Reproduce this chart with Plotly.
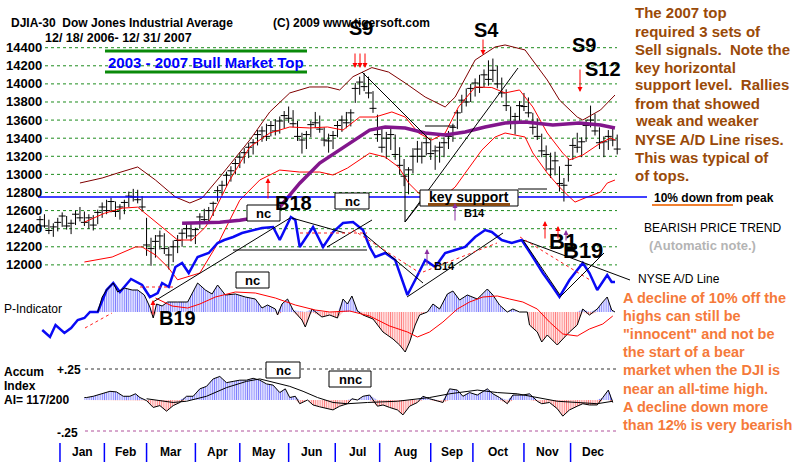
import plotly.graph_objects as go

W, H = 800, 462

# ---------------- data (trading-day index 0 = 12/18/2006) ----------------
bar_day = list(range(0, 261, 2))
bar_high = [12540, 12560, 12500, 12460, 12520, 12580, 12540, 12500, 12600, 12640,
            12590, 12560, 12550, 12610, 12690, 12720, 12740, 12700, 12670, 12720,
            12810, 12840, 12830, 12760, 12520, 12300, 12330, 12380, 12350, 12200,
            12270, 12330, 12400, 12470, 12450, 12410, 12570, 12620, 12640, 12700,
            12870, 12930, 13030, 13090, 13170, 13240, 13290, 13350, 13390, 13490,
            13530, 13560, 13590, 13610, 13640, 13700, 13750, 13710, 13590, 13460,
            13480, 13590, 13690, 13650, 13520, 13450, 13480, 13590, 13650, 13690,
            13720, 14010, 14080, 14120, 14080, 13920, 13660, 13520, 13470, 13530,
            13440, 13300, 13170, 13080, 13290, 13370, 13360, 13430, 13390, 13320,
            13360, 13410, 13480, 13560, 13710, 13880, 13950, 14000, 14060, 14100,
            14160, 14260, 14280, 14200, 14070, 13940, 13750, 13680, 13810, 13900,
            13850, 13680, 13620, 13450, 13320, 13240, 13250, 13090, 12960, 13180,
            13400, 13460, 13410, 13600, 13760, 13670, 13520, 13420, 13490, 13530,
            13440]
bar_low = [12380, 12410, 12340, 12310, 12370, 12420, 12390, 12340, 12440, 12480,
           12430, 12400, 12380, 12450, 12520, 12560, 12580, 12530, 12500, 12560,
           12640, 12700, 12680, 12590, 12100, 11990, 12080, 12170, 12120, 11950,
           12030, 12130, 12200, 12290, 12260, 12230, 12400, 12460, 12480, 12540,
           12700, 12770, 12870, 12920, 13000, 13070, 13120, 13180, 13220, 13320,
           13360, 13370, 13420, 13430, 13450, 13510, 13570, 13520, 13370, 13230,
           13280, 13410, 13510, 13460, 13310, 13240, 13280, 13410, 13470, 13510,
           13530, 13790, 13880, 13920, 13840, 13680, 13360, 13240, 13170, 13270,
           13160, 13000, 12870, 12780, 13010, 13130, 13120, 13210, 13160, 13050,
           13130, 13190, 13280, 13360, 13500, 13680, 13750, 13800, 13860, 13900,
           13960, 13980, 14020, 13950, 13850, 13700, 13500, 13440, 13590, 13700,
           13630, 13440, 13380, 13190, 13040, 12960, 12990, 12810, 12700, 12920,
           13160, 13240, 13190, 13360, 13520, 13430, 13280, 13190, 13270, 13310,
           13220]
bar_close = [12500, 12430, 12380, 12420, 12470, 12540, 12430, 12460, 12560, 12520,
             12470, 12520, 12440, 12580, 12640, 12600, 12700, 12590, 12640, 12690,
             12760, 12750, 12720, 12640, 12220, 12180, 12260, 12320, 12180, 12110,
             12200, 12270, 12350, 12400, 12320, 12390, 12530, 12500, 12600, 12680,
             12820, 12880, 12990, 13040, 13120, 13190, 13240, 13300, 13350, 13440,
             13480, 13420, 13540, 13480, 13590, 13650, 13620, 13560, 13420, 13380,
             13440, 13550, 13570, 13500, 13380, 13370, 13430, 13540, 13600, 13570,
             13680, 13950, 14020, 13970, 13900, 13730, 13440, 13300, 13400, 13440,
             13220, 13100, 12980, 13050, 13200, 13280, 13200, 13350, 13230, 13260,
             13300, 13350, 13420, 13520, 13680, 13820, 13800, 13950, 14010, 13960,
             14100, 14050, 14150, 14000, 13900, 13760, 13580, 13640, 13760, 13750,
             13680, 13520, 13420, 13260, 13220, 13060, 13150, 12900, 12880, 13100,
             13320, 13300, 13360, 13540, 13600, 13480, 13350, 13360, 13420, 13380,
             13280]

band_out_day = [18, 28, 35, 44, 52, 61, 67.5, 73, 81, 94.5, 103.5, 112.5, 121.5, 129.5, 135, 141,
                149.5, 157, 164.5, 173.5, 182.5, 187, 196, 205, 209.5, 218.5, 228.5, 234, 242,
                244.5, 252.5, 259]
band_out_val = [12905, 12960, 13015, 13082, 12938, 12750, 12684, 12739, 12971, 13380, 13690, 13900,
                13966, 13966, 13933, 14080, 14180, 14131, 14010, 13855, 13745, 13855, 14264, 14408,
                14430, 14375, 14043, 13822, 13634, 13601, 13712, 13877]
band_in_day = [20, 29, 37, 44, 55, 62, 68.5, 74.5, 76.5, 85.5, 94.5, 103.5, 112.5, 121.5, 129.5,
               136.5, 144, 151, 158.5, 164.5, 170.5, 176.5, 182.5, 188.5, 196, 203.5, 209.5, 216,
               222, 228.5, 235.5, 238.5, 244.5, 252.5, 257, 259]
band_in_val = [12472, 12570, 12627, 12638, 12417, 12275, 12275, 12417, 12496, 12938, 13303, 13457,
               13524, 13513, 13524, 13490, 13634, 13634, 13690, 13634, 13457, 13380, 13457, 13745,
               13966, 13960, 13900, 13933, 13745, 13457, 13235, 13160, 13214, 13347, 13402, 13380]
band_low_day = [20, 32.5, 43, 46, 52, 57.5, 62, 72, 81, 90, 99, 108, 117, 126, 132, 138.5, 148.5,
                155.5, 161.5, 166, 170.5, 175, 180, 187, 191.5, 199, 205, 209.5, 218.5, 222, 228.5,
                234, 238.5, 241, 246.5, 252.5, 255.5, 259]
band_low_val = [12032, 12087, 12198, 12198, 12110, 11978, 11835, 11910, 12275, 12715, 12938, 13048,
                13026, 13026, 12993, 13070, 13235, 13192, 13082, 12905, 12795, 12750, 12720, 12860,
                13014, 13268, 13413, 13457, 13413, 13237, 13015, 12860, 12750, 12694, 12750, 12805,
                12904, 12938]
ma_day = [64, 72, 81, 90, 99, 108, 117, 126, 135, 144, 148.5, 155.5, 164.5, 173.5, 182.5, 191.5,
          200.5, 209.5, 218.5, 231, 243, 252.5, 259]
ma_val = [12461, 12465, 12472, 12494, 12527, 12638, 12903, 13125, 13270, 13413, 13490, 13524, 13513,
          13457, 13435, 13468, 13524, 13568, 13579, 13546, 13568, 13546, 13513]

ad_day = [1, 4.5, 7, 11, 14, 17, 20, 22.5, 26, 30, 33, 36, 41, 46, 49.5, 53, 55, 58, 61, 64,
          67, 71, 76, 80, 83, 87, 91, 96, 100, 105, 108, 113, 115, 117, 120, 123, 127.5, 132, 136.5, 141,
          145.5, 148.5, 151, 155.5, 160, 163, 165.5, 169, 173.5, 178, 182.5, 187, 191.5, 196, 200.5,
          203.5, 208, 212.5, 217, 222, 226.5, 231, 234, 238.5, 244.5, 247.5, 251, 255.5, 257.5, 259]
ad_val = [-30, -37, -25, -33, -28, -20, -18, -12, -12, 10, 17, 8, 21, 15, 3, 7, 17, 13, 33, 37,
          27, 43, 47, 57, 60, 63, 67, 70, 72, 73, 60, 83, 80, 53, 63, 73, 53, 68, 77, 78,
          70, 53, 43, 47, 40, 20, 5, 20, 40, 33, 47, 50, 53, 63, 70, 68, 60, 57, 60, 43,
          27, 13, 3, 20, 37, 27, 10, 25, 18, 18]

pind_day = [26, 28, 30, 33, 35, 38, 41.5, 44, 47, 49.5, 51, 52.5, 55, 57.5, 62, 66.5, 71, 74.5, 77.5, 80,
            83.5, 88, 92.5, 97, 100, 102.5, 106, 107, 109, 111.5, 114, 118, 119.5, 122.5, 127, 130.5, 134,
            136.5, 138.5, 140.5, 143, 145.5, 150, 154.5, 159, 162, 164.5, 166.5, 169, 171, 174.5, 177,
            180, 183.5, 186, 189, 192.5, 197, 201.5, 204, 207, 210.5, 213, 216, 219.5, 220.5, 224, 226,
            228.5, 233, 235.5, 238.5, 242, 244.5, 247.5, 251, 253.5, 255.5, 257.5, 259]
pind_val = [0, 15, 22, 29, 20, 24, 22, 22, 17, 5, -6, 8, 6, 10, 10, 10, 29, 22, 18, 27,
            17, 18, 15, 13, 4, 7, 3, -3, 8, 13, 2, -8, -15, 3, -5, -3, -6, 13, 8, 16,
            1, -3, -7, -20, -27, -33, -40, -30, -13, -3, 0, 8, 3, 18, 21, 12, 17, 13, 23, 17,
            7, 0, 3, 0, 0, -13, -20, -30, -23, -33, -27, -20, -13, 3, -3, 3, 10, 15, 2, 0]
pma_day = [52, 59.5, 66.5, 72, 79, 88, 97, 106, 115, 124, 130.5, 139.5, 148.5, 157.5, 165.5, 170,
           175.5, 181.5, 188, 193.5, 199.5, 206, 211.5, 217.5, 224, 229.5, 235.5, 242, 247.5, 253.5, 258]
pma_val = [14, 6, 4, 8, 15, 20, 19, 14, 7, 2, 0, 1, -4, -14, -20, -25, -20, -10, 3, 10, 15, 16, 13,
           10, 3, -10, -22, -24, -17, -12, -4]

ai_day = [20, 21, 24, 28.5, 31.5, 34.5, 37.5, 40.5, 43, 45, 48, 51, 54, 57, 60, 63, 66, 69, 72, 75,
          78, 81, 84, 87, 90, 93, 96, 99, 102, 105, 108, 110.5, 112.5, 115, 117, 120.5, 123, 126, 129.5,
          132, 135, 138.5, 140.5, 143, 145.5, 148.5, 152, 154.5, 157.5, 161, 163.5, 166.5, 170, 172.5,
          175.5, 179, 181.5, 184.5, 188, 190.5, 193.5, 197, 201.5, 204, 207, 210.5, 213, 217.5, 220.5,
          224, 226, 229.5, 233, 235.5, 238.5, 242, 244.5, 247.5, 251, 253.5, 256, 258]
ai_val = [0.02, 0.02, 0.03, 0.055, 0.07, 0.065, 0.03, 0.03, 0.05, 0.02,
          -0.005, -0.06, -0.045, -0.09, -0.045, -0.02, 0.03, 0.03, 0.09, 0.11,
          0.17, 0.19, 0.14, 0.15, 0.16, 0.16, 0.175, 0.16, 0.13, 0.12,
          0.06, 0.09, 0.02, 0.03, -0.03, 0, -0.04, -0.055, -0.07, -0.08,
          -0.05, -0.03, 0.01, 0, 0.03, 0.04, -0.05, -0.04, -0.06, -0.08,
          -0.12, -0.05, -0.02, 0.03, 0.01, -0.01, -0.02, 0.09, 0.08, 0.03,
          0.06, 0.04, 0.09, 0.05, 0.02, -0.03, 0.04, 0.04, 0.05, -0.01,
          -0.03, -0.02, -0.07, -0.13, -0.08, -0.05, -0.03, -0.04, -0.04, 0.02,
          0.08, -0.02]
aima_day = [48, 60, 66, 75, 84, 93, 99, 107, 112.5, 118.5, 125, 132, 138.5, 147.5, 161, 175.5, 184.5,
            197, 206, 215, 224, 233, 242, 251, 258]
aima_val = [0.01, -0.02, -0.01, 0.03, 0.1, 0.15, 0.17, 0.135, 0.11, 0.07, 0.02, -0.02, -0.03, -0.02,
            -0.01, 0.02, 0.05, 0.08, 0.06, 0.05, 0.02, -0.01, -0.02, -0.03, -0.01]

price_ticks = [12000, 12200, 12400, 12600, 12800, 13000, 13200, 13400, 13600, 13800, 14000, 14200, 14400]
month_names = ["Jan", "Feb", "Mar", "Apr", "May", "Jun", "Jul", "Aug", "Sep", "Oct", "Nov", "Dec"]
month_start = [9, 29, 48, 70, 90, 112, 133, 153, 176, 195, 218, 239]
last_day = 259
support_level = 12750
ai_levels = [0.25, -0.25]

# ---------------- figure ----------------
FONT = "Liberation Sans, Arial, sans-serif"
fig = go.Figure()


def PX(x):
    return x / W


def PY(y):
    return 1 - y / H


# price bars
bx, by = [], []
for d, hi, lo in zip(bar_day, bar_high, bar_low):
    bx += [d, d, None]
    by += [lo, hi, None]
fig.add_trace(go.Scatter(x=bx, y=by, mode="lines", line=dict(color="black", width=1), yaxis="y"))
fig.add_trace(go.Scatter(x=bar_day, y=bar_close, mode="markers", yaxis="y",
                         marker=dict(symbol="line-ew", size=5, line=dict(color="black", width=1))))
fig.add_trace(go.Scatter(x=band_out_day, y=band_out_val, mode="lines", line=dict(color="#800000", width=1), yaxis="y"))
fig.add_trace(go.Scatter(x=band_in_day, y=band_in_val, mode="lines", line=dict(color="#FF0000", width=1), yaxis="y"))
fig.add_trace(go.Scatter(x=band_low_day, y=band_low_val, mode="lines", line=dict(color="#FF0000", width=1), yaxis="y"))
fig.add_trace(go.Scatter(x=ma_day, y=ma_val, mode="lines", line=dict(color="#82168C", width=3.5), yaxis="y"))

# A/D line
fig.add_trace(go.Scatter(x=ad_day, y=ad_val, mode="lines", line=dict(color="#0A0AF5", width=2.5), yaxis="y2"))

PAT = dict(shape="|", size=2.2, solidity=0.5)

# P-Indicator
fig.add_trace(go.Scatter(x=pind_day, y=[max(v, 0) for v in pind_val], mode="lines", yaxis="y3",
                         line=dict(width=0, color="blue"), fill="tozeroy", fillcolor="rgba(0,0,0,0)",
                         fillpattern=dict(fgcolor="#0000FF", **PAT)))
fig.add_trace(go.Scatter(x=pind_day, y=[min(v, 0) for v in pind_val], mode="lines", yaxis="y3",
                         line=dict(width=0, color="red"), fill="tozeroy", fillcolor="rgba(0,0,0,0)",
                         fillpattern=dict(fgcolor="#FF0000", **PAT)))
fig.add_trace(go.Scatter(x=pind_day, y=pind_val, mode="lines", line=dict(color="black", width=1), yaxis="y3"))
fig.add_trace(go.Scatter(x=pma_day, y=pma_val, mode="lines", line=dict(color="#FF0000", width=1), yaxis="y3"))

# Accumulation index
fig.add_trace(go.Scatter(x=ai_day, y=[max(v, 0) for v in ai_val], mode="lines", yaxis="y4",
                         line=dict(width=0, color="blue"), fill="tozeroy", fillcolor="rgba(0,0,0,0)",
                         fillpattern=dict(fgcolor="#0000FF", **PAT)))
fig.add_trace(go.Scatter(x=ai_day, y=[min(v, 0) for v in ai_val], mode="lines", yaxis="y4",
                         line=dict(width=0, color="red"), fill="tozeroy", fillcolor="rgba(0,0,0,0)",
                         fillpattern=dict(fgcolor="#FF0000", **PAT)))
fig.add_trace(go.Scatter(x=ai_day, y=ai_val, mode="lines", line=dict(color="black", width=1), yaxis="y4"))
fig.add_trace(go.Scatter(x=aima_day, y=aima_val, mode="lines", line=dict(color="black", width=1), yaxis="y4"))

shapes = []
# gridlines
for p in price_ticks:
    shapes.append(dict(type="line", xref="paper", yref="y", x0=PX(45), x1=PX(617), y0=p, y1=p,
                       line=dict(color="#1E8C1E", width=1, dash="dot"), layer="below"))
for lvl, col in zip(ai_levels, ["#333333", "#B0509A"]):
    shapes.append(dict(type="line", xref="paper", yref="y4", x0=PX(85), x1=PX(617), y0=lvl, y1=lvl,
                       line=dict(color=col, width=1, dash="dot"), layer="below"))
# 10% down support line
shapes.append(dict(type="line", xref="paper", yref="y", x0=PX(38), x1=PX(647), y0=support_level,
                   y1=support_level, line=dict(color="#0000FF", width=1.5)))
# month separators
for m in month_start:
    shapes.append(dict(type="line", xref="x", yref="paper", x0=m, x1=m, y0=PY(462), y1=PY(443),
                       line=dict(color="#0000FF", width=1.5)))


def seg(x0, y0, x1, y1, color="black", width=1, dash=None):
    ln = dict(color=color, width=width)
    if dash:
        ln["dash"] = dash
    shapes.append(dict(type="line", xref="paper", yref="paper", x0=PX(x0), y0=PY(y0), x1=PX(x1), y1=PY(y1), line=ln))


def box(x0, y0, x1, y1):
    shapes.append(dict(type="rect", xref="paper", yref="paper", x0=PX(x0), y0=PY(y1), x1=PX(x1), y1=PY(y0),
                       line=dict(color="black", width=1), fillcolor="white"))


# green frame around banner
seg(105, 51, 307, 51, "#0A8A0A", 3)
seg(105, 72, 307, 72, "#0A8A0A", 3)
# trendlines (price)
seg(362, 72, 430, 140)
seg(405, 222, 518, 68)
seg(405, 175, 405, 222)
seg(405, 222, 420, 203)
seg(518, 189, 547, 189)
seg(425, 126, 455, 126)
# trendlines (A/D)
seg(153, 302, 290, 218)
seg(233, 250, 367, 250)
seg(292, 218, 345, 233)
seg(327, 247, 372, 220)
seg(363, 233, 423, 283)
seg(407, 297, 503, 233)
seg(523, 240, 630, 280)
seg(523, 240, 560, 295)
seg(560, 297, 604, 253)
seg(300, 233, 367, 233, "#FF2020", 1, "dot")
seg(353, 230, 420, 273, "#FF2020", 1, "dot")
seg(423, 272, 497, 243, "#FF2020", 1, "dot")
seg(520, 237, 590, 280, "#FF2020", 1, "dot")
seg(85, 328, 112, 313, "#FF2020", 1, "dot")
seg(140, 287, 175, 287, "#FF2020", 1, "dot")
# boxes
box(420, 190, 518, 206)
box(247, 205, 280, 221)
box(335, 193, 369, 209)
box(236, 272, 269, 288)
box(266, 362, 300, 378)
box(329, 371, 371, 387)
seg(428, 204.5, 510, 204.5, "#8B4A10", 3)
seg(652, 205, 733, 205, "#F08030", 2)

fig.update_layout(shapes=shapes)

ann = []


def txt(x, y, s, size=12, color="black", bold=True, anchor="left"):
    ann.append(dict(x=PX(x), y=PY(y), xref="paper", yref="paper",
                    text=("<b>%s</b>" % s if bold else s), showarrow=False, xanchor=anchor,
                    yanchor="middle", font=dict(family=FONT, size=size, color=color)))


def arrow(x, y_tail, y_tip, color="#FF0000"):
    ann.append(dict(x=PX(x), y=PY(y_tip), xref="paper", yref="paper",
                    axref="pixel", ayref="pixel", ax=0, ay=(y_tail - y_tip), text="", showarrow=True,
                    arrowhead=2, arrowsize=1, arrowwidth=1, arrowcolor=color))


# price tick labels
for p in price_ticks:
    ann.append(dict(x=PX(4), y=p, xref="paper", yref="y", text="<b>%d</b>" % p, showarrow=False,
                    xanchor="left", yanchor="middle", font=dict(family=FONT, size=13, color="black")))

txt(9, 23, "DJIA-30&nbsp;&nbsp;Dow Jones Industrial Average", 12)
txt(271, 23, "(C) 2009 www.tigersoft.com", 12)
txt(43, 38, "12/ 18/ 2006- 12/ 31/ 2007", 12.5)
txt(206, 62, "2003 - 2007 Bull Market Top", 15, "#0000FF", anchor="center")

txt(361, 28, "S9", 20, anchor="center")
txt(486, 30, "S4", 20, anchor="center")
txt(584, 45, "S9", 20, anchor="center")
txt(603, 69, "S12", 20, anchor="center")
txt(293, 203, "B18", 20, anchor="center")
txt(177, 318, "B19", 20, anchor="center")
txt(563, 241, "B1", 22, anchor="center")
txt(583, 250, "B19", 22, anchor="center")
txt(462, 213, "B14", 11)
txt(432, 266, "B14", 11)

txt(263.5, 213, "nc", 13, anchor="center")
txt(352, 201, "nc", 13, anchor="center")
txt(252.5, 280, "nc", 13, anchor="center")
txt(283, 370, "nc", 13, anchor="center")
txt(350, 379, "nnc", 13, anchor="center")
txt(469, 197, "key support", 14, anchor="center")
txt(652, 198, "10% down from peak", 12)
txt(642, 228, "BEARISH PRICE TREND", 12, bold=False)
txt(647, 246, "(Automatic note.)", 13, "#B4B4B4")
txt(636, 279, "NYSE A/D Line", 12, bold=False)

txt(2, 309, "P-Indicator", 12, bold=False)
txt(2, 372, "Accum", 12)
txt(2, 386, "Index", 12)
txt(2, 400, "AI= 117/200", 12)
txt(55, 370, "+.25", 12)
txt(55, 433, "-.25", 12)

brown = ["The 2007 top", "required 3 sets of", "Sell signals.&nbsp;&nbsp;Note the", "key horizontal",
         "support level.&nbsp;&nbsp;Rallies", "from that showed", "weak and weaker",
         "NYSE A/D Line rises.", "This was typical of", "of tops."]
for k, line in enumerate(brown):
    txt(633, 13 + 18 * k, line, 15, "#9A4A08")
orange = ["A decline of 10% off the", "highs can still be", "\"innocent\" and not be",
          "the start of a bear", "market when the DJI is", "near an all-time high.",
          "A decline down more", "than 12% is very bearish"]
for k, line in enumerate(orange):
    txt(621, 298 + 18.1 * k, line, 14.5, "#F57A3A")

for k, name in enumerate(month_names):
    end = month_start[k + 1] if k + 1 < len(month_start) else last_day
    ann.append(dict(x=(month_start[k] + end) / 2, y=PY(452), xref="x", yref="paper",
                    text="<b>%s</b>" % name, showarrow=False, xanchor="center", yanchor="middle",
                    font=dict(family=FONT, size=12, color="black")))

# signal arrows
for xa in (355, 360, 365):
    arrow(xa, 52, 68)
arrow(483, 38, 55)
arrow(580, 68, 92)
arrow(268, 200, 178)
arrow(153, 316, 300)
arrow(545, 240, 221)
arrow(558, 240, 226)
arrow(566, 242, 230, "#8A2BA0")
arrow(427, 267, 249, "#8A2BA0")
arrow(455, 222, 203, "#8A2BA0")

fig.update_layout(annotations=ann)

x_lo = (0 - 40) / 2.22
x_hi = (W - 40) / 2.22
fig.update_layout(
    width=W, height=H, margin=dict(l=0, r=0, t=0, b=0),
    paper_bgcolor="white", plot_bgcolor="white", showlegend=False,
    xaxis=dict(range=[x_lo, x_hi], domain=[0, 1], visible=False, fixedrange=True),
    yaxis=dict(range=[9822, 14927], domain=[0, 1], visible=False, fixedrange=True),
    yaxis2=dict(range=[-162, 300], overlaying="y", visible=False, fixedrange=True),
    yaxis3=dict(range=[-150, 312], overlaying="y", visible=False, fixedrange=True),
    yaxis4=dict(range=[-0.5, 3.2258], overlaying="y", visible=False, fixedrange=True),
)

fig.write_html("out.html")
